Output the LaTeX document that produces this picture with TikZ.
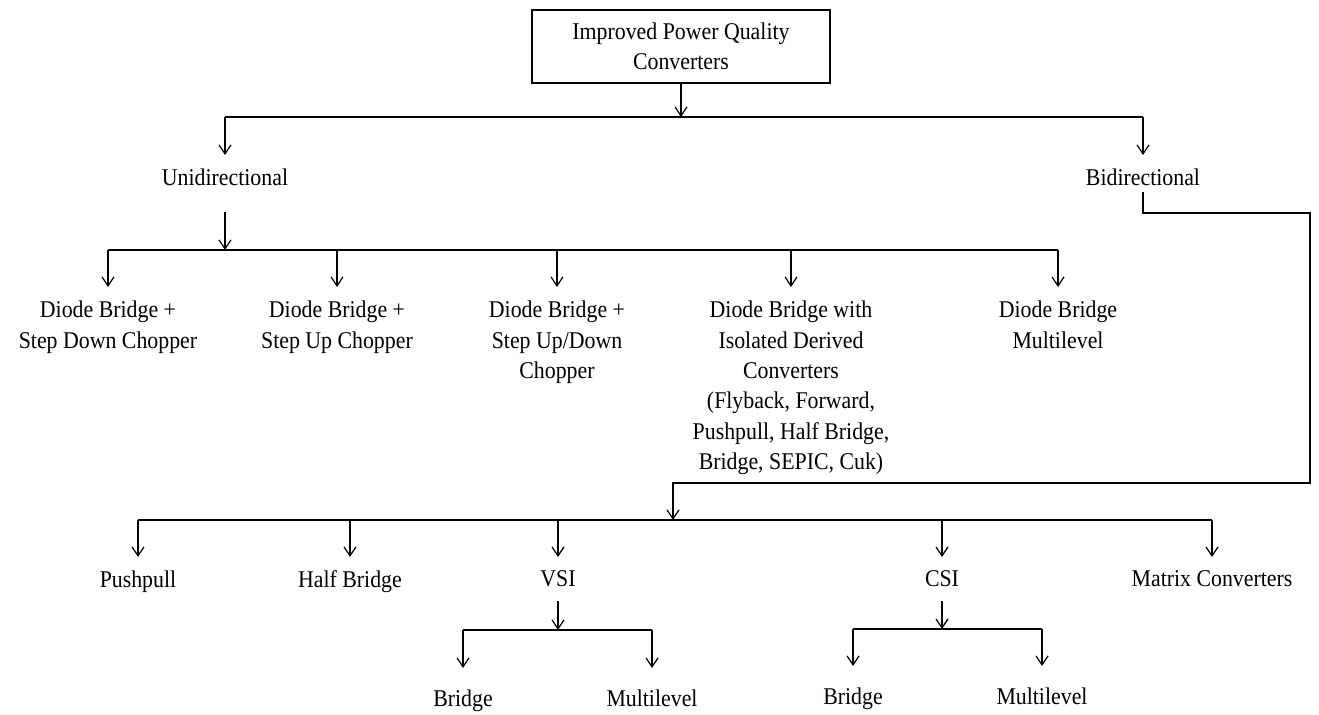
\documentclass[tikz,border=0pt]{standalone}
\usepackage{fontspec}
\setmainfont{Liberation Serif}[FakeStretch=0.91]
\usetikzlibrary{arrows.meta,positioning}

\begin{document}
\begin{tikzpicture}[x=0.5pt,y=-0.5pt,
  lbl/.style={inner sep=0pt,outer ysep=7pt,anchor=north,align=center,font=\fontsize{12}{15.2}\selectfont},
  leaf/.style={lbl,outer ysep=11pt},
  conn/.style={line width=0.6pt},
  arr/.style={conn,-{Straight Barb[length=4.5pt,width=6pt]}}]
\useasboundingbox (0,0) rectangle (1319,715);
\node[draw,line width=0.6pt,minimum width=149pt,minimum height=36.5pt,align=center,font=\fontsize{12}{15.2}\selectfont] (top) at (681,46.5) {Improved Power Quality\\Converters};
\coordinate (b1) at (0,117);
\coordinate (b2) at (0,250);
\coordinate (b3) at (0,520);
\coordinate (b4) at (0,630);
\coordinate (b5) at (0,629);
\node[lbl] (uni) at (225,155) {Unidirectional};
\node[lbl] (bi) at (1143,155) {Bidirectional};
\node[lbl] (d1) at (108,287) {Diode Bridge +\\Step Down Chopper};
\node[lbl] (d2) at (337,287) {Diode Bridge +\\Step Up Chopper};
\node[lbl] (d3) at (557,287) {Diode Bridge +\\Step Up/Down\\Chopper};
\node[lbl] (d4) at (791,287) {Diode Bridge with\\Isolated Derived\\Converters\\(Flyback, Forward,\\Pushpull, Half Bridge,\\Bridge, SEPIC, Cuk)};
\node[lbl] (d5) at (1058,287) {Diode Bridge\\Multilevel};
\node[lbl] (pp) at (138,557) {Pushpull};
\node[lbl] (hb) at (350,557) {Half Bridge};
\node[lbl] (vsi) at (558,557) {VSI};
\node[lbl] (csi) at (942,557) {CSI};
\node[lbl] (mat) at (1212,557) {Matrix Converters};
\node[leaf] (vb) at (463,668) {Bridge};
\node[leaf] (vm) at (652,668) {Multilevel};
\node[leaf] (cb) at (853,666) {Bridge};
\node[leaf] (cm) at (1042,666) {Multilevel};
\coordinate (bturn) at (1310,213);
\coordinate (bjoin) at (673,483);
\draw[arr] (top.south) -- (top.south |- b1);
\draw[conn] (uni.north |- b1) -- (bi.north |- b1);
\foreach \n in {uni,bi} \draw[arr] (\n.north |- b1) -- (\n.north);
\draw[arr,shorten <=6pt] (uni.south) -- (uni.south |- b2);
\draw[conn] (d1.north |- b2) -- (d5.north |- b2);
\foreach \n in {d1,d2,d3,d4,d5} \draw[arr] (\n.north |- b2) -- (\n.north);
\draw[arr,shorten <=-4pt] (bi.south) |- (bturn) |- (bjoin) -- (bjoin |- b3);
\draw[conn] (pp.north |- b3) -- (mat.north |- b3);
\foreach \n in {pp,hb,vsi,csi,mat} \draw[arr] (\n.north |- b3) -- (\n.north);
\draw[arr] (vsi.south) -- (vsi.south |- b4);
\draw[conn] (vb.north |- b4) -- (vm.north |- b4);
\foreach \n in {vb,vm} \draw[arr] (\n.north |- b4) -- (\n.north);
\draw[arr] (csi.south) -- (csi.south |- b5);
\draw[conn] (cb.north |- b5) -- (cm.north |- b5);
\foreach \n in {cb,cm} \draw[arr] (\n.north |- b5) -- (\n.north);
\end{tikzpicture}
\end{document}
